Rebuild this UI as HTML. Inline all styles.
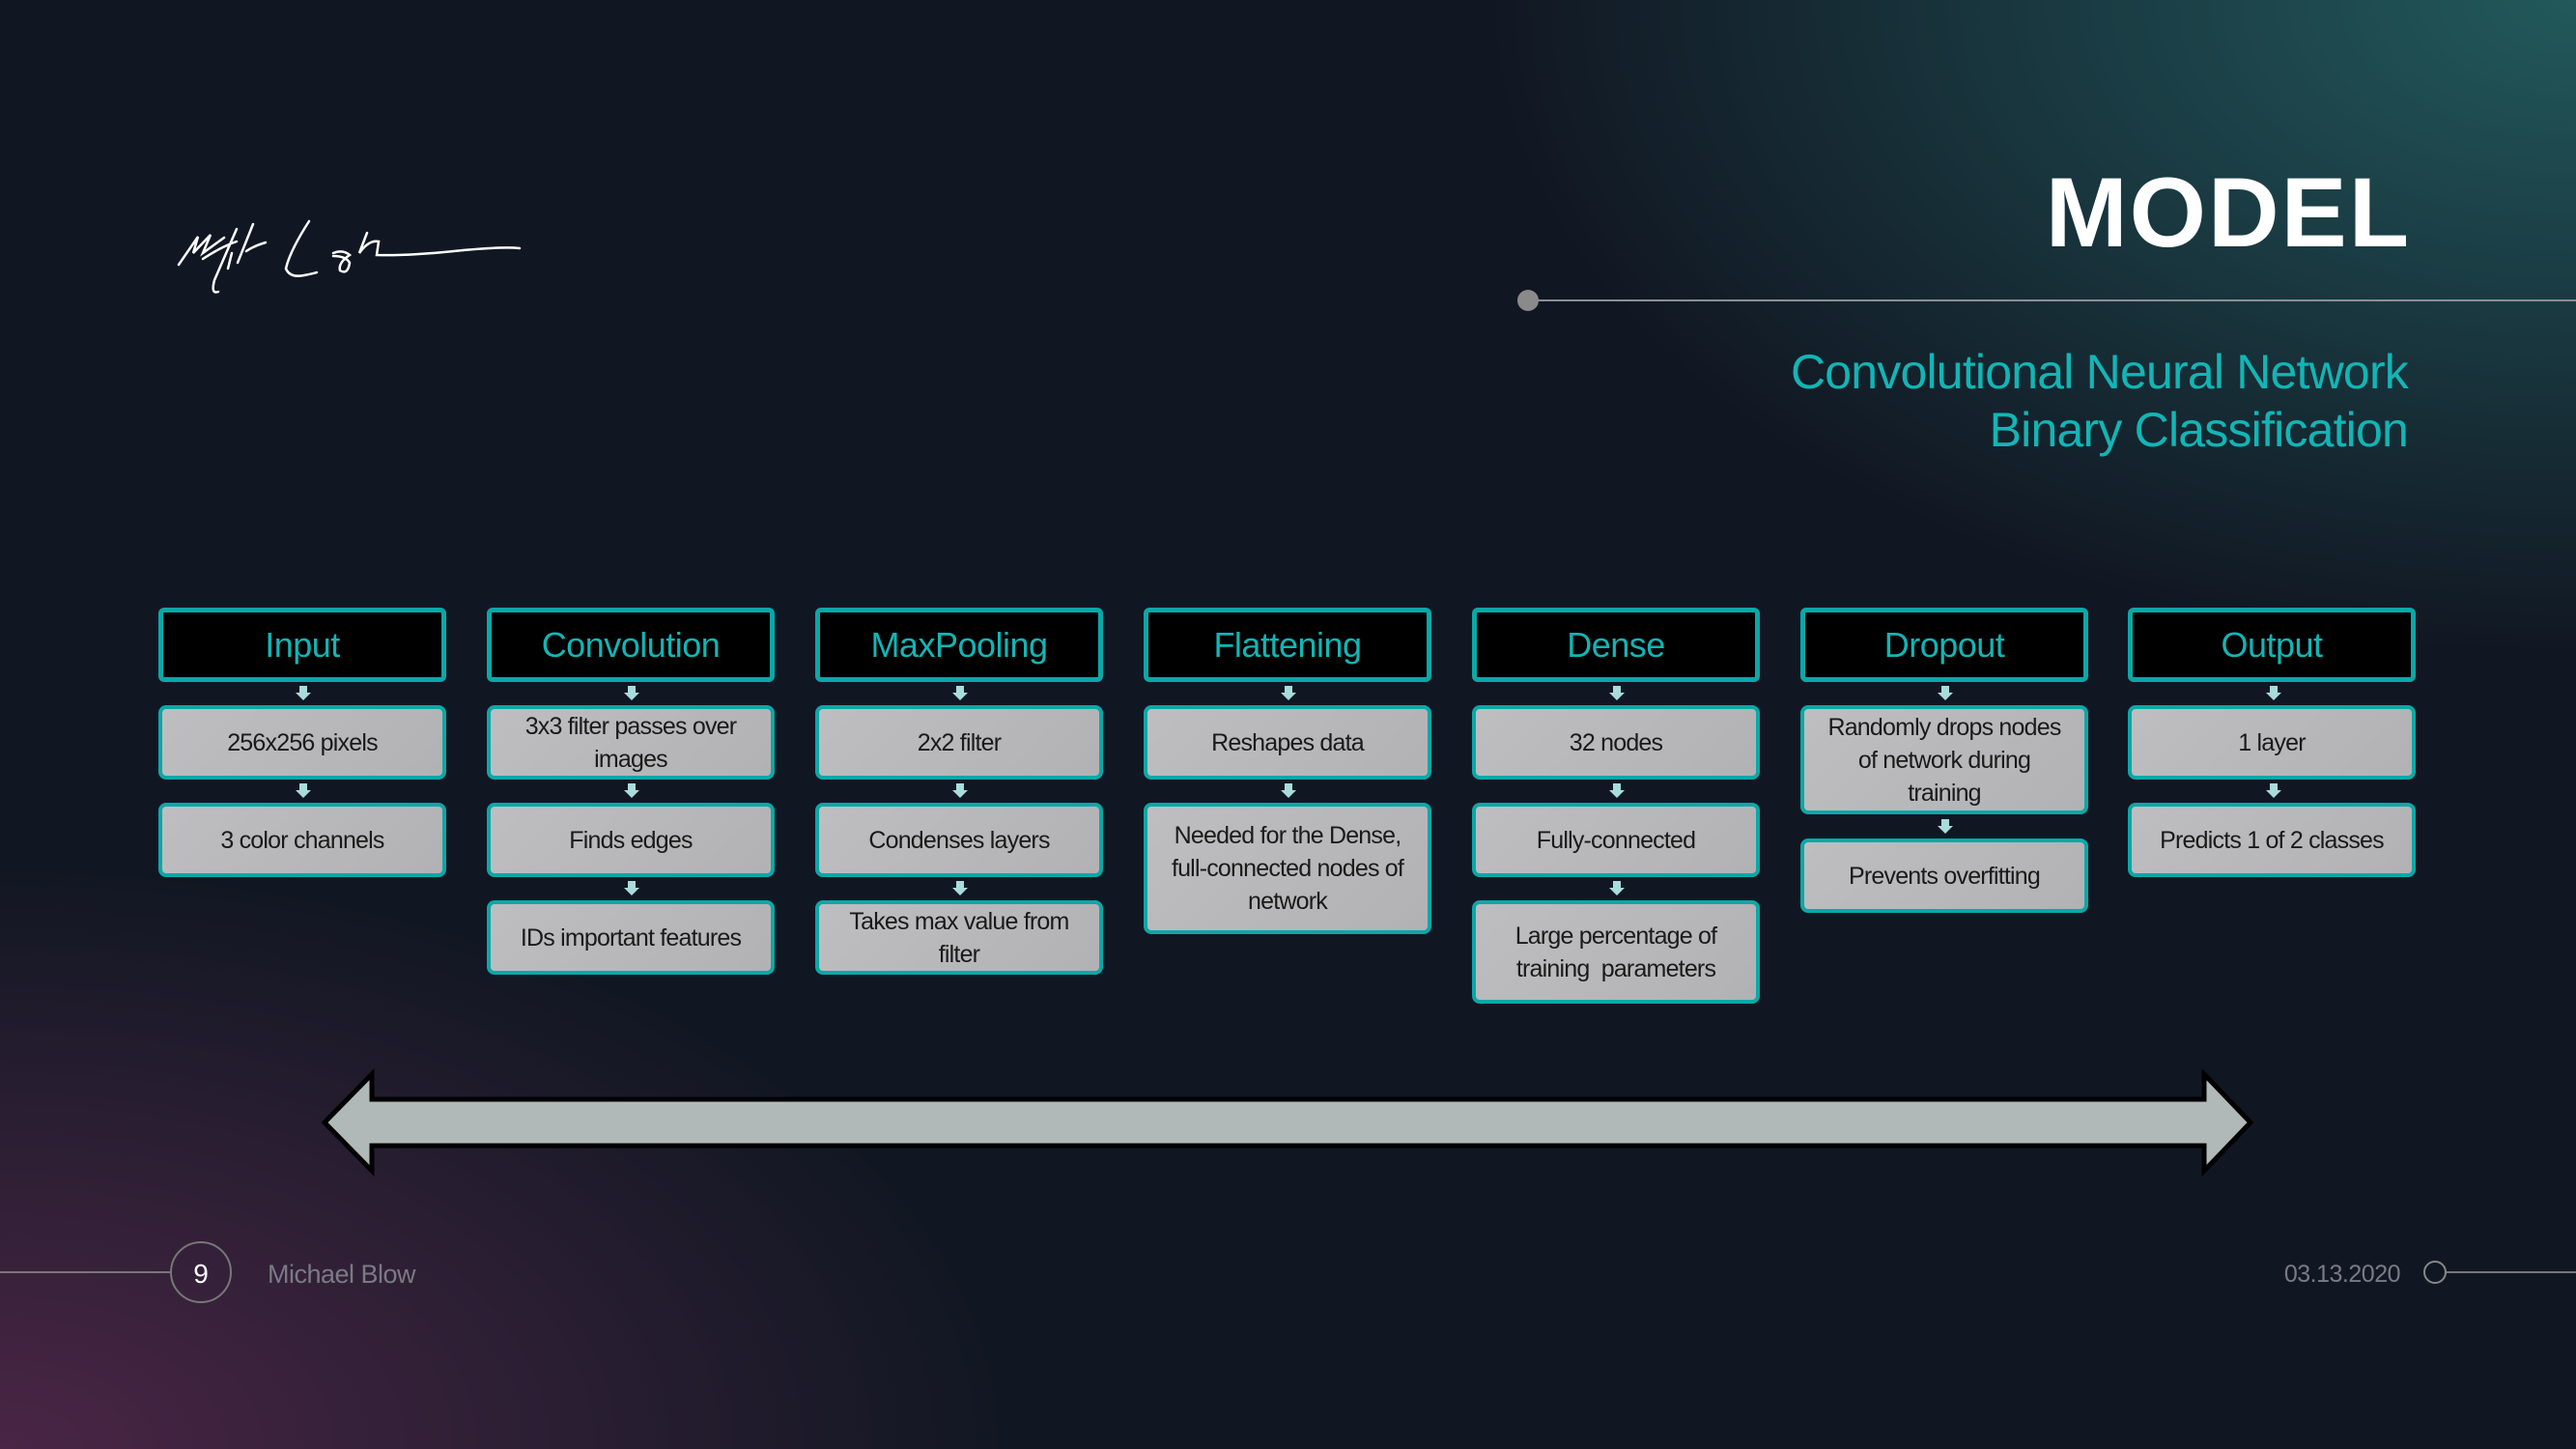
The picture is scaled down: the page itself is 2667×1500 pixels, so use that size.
<!DOCTYPE html>
<html><head><meta charset="utf-8"><style>
*{margin:0;padding:0;box-sizing:border-box}
body{width:2667px;height:1500px;overflow:hidden;position:relative;font-family:"Liberation Sans",sans-serif;
background:radial-gradient(ellipse 1500px 900px at 2667px 0px,#22595b 0%,#1a3a42 35%,rgba(17,23,34,0) 75%),
radial-gradient(ellipse 1300px 750px at 0px 1500px,#4a2545 0%,#2e1f35 40%,rgba(17,23,34,0) 80%),#111722;}
.a{position:absolute}
.h{position:absolute;width:298px;height:77px;background:#000;border:5px solid #0aa8a8;border-radius:6px;color:#12b5b5;font-size:36px;display:flex;align-items:center;justify-content:center;letter-spacing:-0.5px}
.b{position:absolute;width:298px;background:linear-gradient(135deg,#bebec0,#b2b2b4);border:4px solid #0aa8a8;border-radius:8px;color:#1a1a1a;font-size:25px;display:flex;align-items:center;justify-content:center;text-align:center;line-height:34px;letter-spacing:-0.8px;padding:0 4px;white-space:nowrap}
</style></head><body>
<svg class="a" style="left:0;top:0" width="2667" height="1500">
<g fill="none" stroke="#fff" stroke-width="2.5" stroke-linecap="round">
<path d="M185 274 L205 245 L200 262 L218 243 L210 262 L232 246 M210 268 Q230 255 245 250 M245 237 L222 290 Q218 305 226 302 M240 262 L236 278 M262 232 L246 272 M255 260 Q262 255 275 251 M320 229 Q300 260 296 278 Q300 288 315 285 Q325 283 328 282 M345 262 Q355 258 362 264 Q350 272 352 280 Q360 285 362 272 Q358 265 345 265 M380 241 L372 262 Q382 248 392 250 L390 264 Q420 265 470 260 Q520 255 538 257"/>
</g>
<line x1="1582" y1="311" x2="2667" y2="311" stroke="#8a8f95" stroke-width="2"/>
<circle cx="1582" cy="311" r="11" fill="#8a8a8a"/>
<line x1="0" y1="1317" x2="177" y2="1317" stroke="#777" stroke-width="2"/>
<circle cx="208" cy="1317" r="31" fill="none" stroke="#777" stroke-width="2"/>
<line x1="2532" y1="1317" x2="2667" y2="1317" stroke="#777" stroke-width="2"/>
<circle cx="2521" cy="1317" r="11" fill="none" stroke="#888" stroke-width="2"/>
<polygon points="336,1162 385,1112 385,1138 2282,1138 2282,1112 2330,1162 2282,1212 2282,1186 385,1186 385,1212" fill="#b0b8b8" stroke="#000" stroke-width="5" stroke-linejoin="miter"/>
<defs><path id="dn" d="M-4 0 H4 V7 H8 L0 15 L-8 7 H-4 Z" fill="#a9dcdc"/></defs>
<use href="#dn" x="314" y="710"/><use href="#dn" x="314" y="811"/>
<use href="#dn" x="654" y="710"/><use href="#dn" x="654" y="811"/><use href="#dn" x="654" y="912"/>
<use href="#dn" x="994" y="710"/><use href="#dn" x="994" y="811"/><use href="#dn" x="994" y="912"/>
<use href="#dn" x="1334" y="710"/><use href="#dn" x="1334" y="811"/>
<use href="#dn" x="1674" y="710"/><use href="#dn" x="1674" y="811"/><use href="#dn" x="1674" y="912"/>
<use href="#dn" x="2014" y="710"/><use href="#dn" x="2014" y="848"/>
<use href="#dn" x="2354" y="710"/><use href="#dn" x="2354" y="811"/>
</svg>
<div class="a" style="left:2000px;top:160px;width:496px;text-align:right;color:#fff;font-weight:bold;font-size:102px;line-height:120px;letter-spacing:2px">MODEL</div>
<div class="a" style="left:1700px;top:355px;width:793px;text-align:right;color:#12b5b5;font-size:50px;line-height:60px;letter-spacing:-0.8px">Convolutional Neural Network<br>Binary Classification</div>
<div class="a" style="left:194px;top:1302px;width:28px;text-align:center;color:#fff;font-size:28px;line-height:34px">9</div>
<div class="a" style="left:277px;top:1302px;color:#7a7a85;font-size:27px;line-height:34px;letter-spacing:-0.5px">Michael Blow</div>
<div class="a" style="left:2300px;top:1302px;width:185px;text-align:right;color:#7a7a85;font-size:25px;line-height:34px;letter-spacing:-0.5px">03.13.2020</div>

<div class="h" style="left:164px;top:629px">Input</div>
<div class="b" style="left:164px;top:730px;height:77px">256x256 pixels</div>
<div class="b" style="left:164px;top:831px;height:77px">3 color channels</div>

<div class="h" style="left:504px;top:629px">Convolution</div>
<div class="b" style="left:504px;top:730px;height:77px">3x3 filter passes over<br>images</div>
<div class="b" style="left:504px;top:831px;height:77px">Finds edges</div>
<div class="b" style="left:504px;top:932px;height:77px">IDs important features</div>

<div class="h" style="left:844px;top:629px">MaxPooling</div>
<div class="b" style="left:844px;top:730px;height:77px">2x2 filter</div>
<div class="b" style="left:844px;top:831px;height:77px">Condenses layers</div>
<div class="b" style="left:844px;top:932px;height:77px">Takes max value from<br>filter</div>

<div class="h" style="left:1184px;top:629px">Flattening</div>
<div class="b" style="left:1184px;top:730px;height:77px">Reshapes data</div>
<div class="b" style="left:1184px;top:831px;height:136px">Needed for the Dense,<br>full-connected nodes of<br>network</div>

<div class="h" style="left:1524px;top:629px">Dense</div>
<div class="b" style="left:1524px;top:730px;height:77px">32 nodes</div>
<div class="b" style="left:1524px;top:831px;height:77px">Fully-connected</div>
<div class="b" style="left:1524px;top:932px;height:107px">Large percentage of<br>training&nbsp; parameters</div>

<div class="h" style="left:1864px;top:629px">Dropout</div>
<div class="b" style="left:1864px;top:730px;height:113px">Randomly drops nodes<br>of network during<br>training</div>
<div class="b" style="left:1864px;top:868px;height:77px">Prevents overfitting</div>

<div class="h" style="left:2203px;top:629px">Output</div>
<div class="b" style="left:2203px;top:730px;height:77px">1 layer</div>
<div class="b" style="left:2203px;top:831px;height:77px">Predicts 1 of 2 classes</div>
</body></html>
